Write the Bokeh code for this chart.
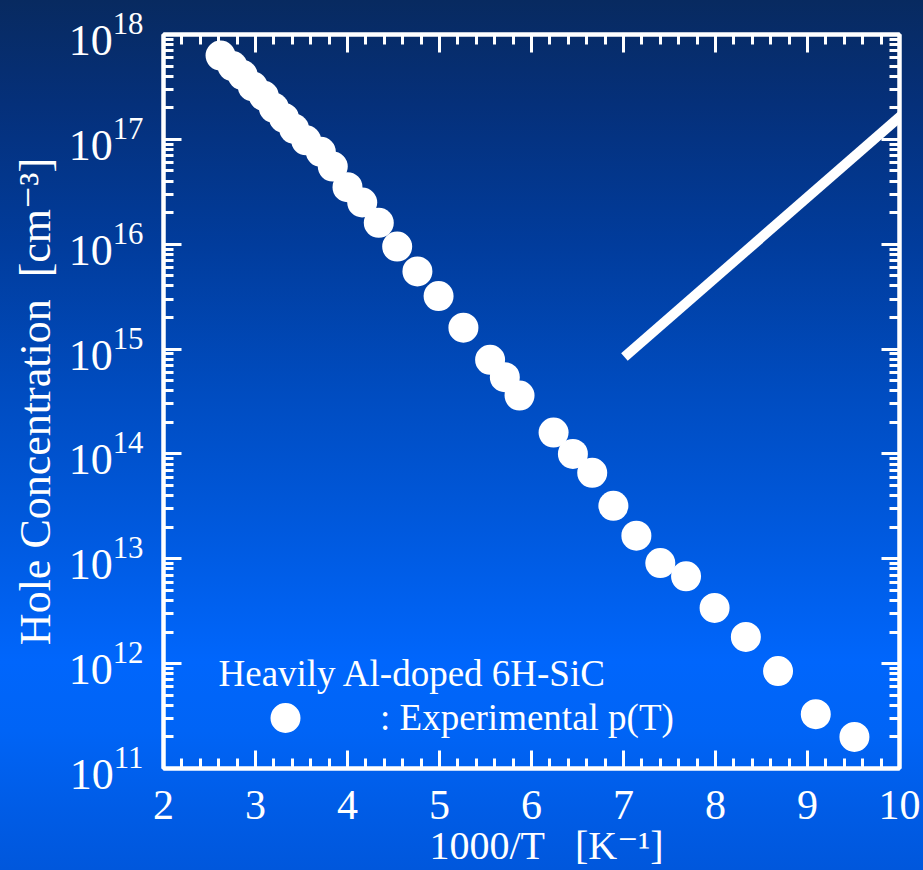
import numpy as np
from bokeh.plotting import figure
from bokeh.models import (Range1d, LinearAxis, LogAxis, FixedTicker, Arrow, Legend,
                          LegendItem, InlineStyleSheet, Label)
from bokeh.embed import file_html
from bokeh.resources import INLINE

# ---------------- data ----------------
inv_T = [2.62, 2.75, 2.86, 2.97, 3.09, 3.20, 3.31, 3.42, 3.55, 3.71, 3.84, 4.00,
         4.16, 4.34, 4.54, 4.76, 4.99, 5.26, 5.55, 5.71, 5.87, 6.24, 6.45, 6.66,
         6.89, 7.14, 7.40, 7.68, 7.99, 8.33, 8.68, 9.09, 9.51]
p_hole = [6.3e17, 5.0e17, 4.1e17, 3.2e17, 2.6e17, 2.0e17, 1.6e17, 1.26e17, 9.8e16,
          7.6e16, 5.5e16, 3.5e16, 2.5e16, 1.6e16, 9.5e15, 5.5e15, 3.2e15, 1.6e15,
          7.9e14, 5.4e14, 3.6e14, 1.6e14, 1.0e14, 6.6e13, 3.2e13, 1.66e13, 9.1e12,
          6.8e12, 3.4e12, 1.8e12, 8.5e11, 3.3e11, 2.0e11]

x_ticks = [2, 3, 4, 5, 6, 7, 8, 9, 10]
y_ticks = [1e11, 1e12, 1e13, 1e14, 1e15, 1e16, 1e17, 1e18]

guide_x = [7.01, 10.6]
guide_y = [8.4e14, 4.7e17]

legend_title = "Heavily Al-doped 6H-SiC"
legend_label = ": Experimental p(T)"
x_title = "\u00a0\u00a0\u00a01000/T\u00a0\u00a0\u00a0[K\u207b\u00b9]"
y_title = "Hole Concentration\u00a0\u00a0[cm\u207b\u00b3]"

FONT = "Liberation Serif"
FONT_SUP = "Liberation Serif, DejaVu Serif"

# ---------------- figure ----------------
p = figure(width=923, height=870, x_range=Range1d(2, 10), y_range=Range1d(1e11, 1e18),
           y_axis_type="log", x_axis_location=None, y_axis_location=None,
           output_backend="svg", toolbar_location=None,
           min_border_left=163, min_border_right=24, min_border_top=34, min_border_bottom=101)
p.grid.visible = False
p.background_fill_color = None
p.border_fill_color = None
p.outline_line_color = "white"
p.outline_line_width = 4
p.stylesheets = [InlineStyleSheet(css=""":host { background: linear-gradient(to bottom,
  #082a60 0%, #05307a 12%, #013c9c 28%, #004cc0 45%, #005ae0 62%, #0066fc 76%,
  #0064f6 84%, #005ce6 93%, #0057dc 100%); }""")]

x_minor = [2 + 0.2 * k for k in range(41)]
y_minor = [m * 10.0 ** e for e in range(11, 18) for m in range(2, 10)]


def style_axis(ax):
    ax.axis_line_color = "white"
    ax.axis_line_width = 4
    ax.major_tick_line_color = "white"
    ax.major_tick_line_width = 3
    ax.minor_tick_line_color = "white"
    ax.minor_tick_line_width = 3
    ax.major_tick_in = 18
    ax.major_tick_out = 0
    ax.minor_tick_in = 10
    ax.minor_tick_out = 0


def hide_labels(ax):
    ax.major_label_text_color = None
    ax.major_label_text_font_size = "1px"
    ax.major_label_standoff = 0


xb = LinearAxis(ticker=FixedTicker(ticks=x_ticks, minor_ticks=x_minor))
style_axis(xb)
xb.major_label_text_font = FONT
xb.major_label_text_font_size = "42px"
xb.major_label_text_color = "white"
xb.major_label_standoff = 22
xb.axis_label = x_title
xb.axis_label_text_font = FONT_SUP
xb.axis_label_text_font_size = "40px"
xb.axis_label_text_font_style = "normal"
xb.axis_label_text_color = "white"
xb.axis_label_standoff = 1
p.add_layout(xb, "below")

xt = LinearAxis(ticker=FixedTicker(ticks=x_ticks, minor_ticks=x_minor))
style_axis(xt)
hide_labels(xt)
p.add_layout(xt, "above")

yl = LogAxis(ticker=FixedTicker(ticks=y_ticks, minor_ticks=y_minor))
style_axis(yl)
yl.major_label_text_font = FONT
yl.major_label_text_font_size = "44px"
yl.major_label_text_color = "white"
yl.major_label_standoff = 20
yl.axis_label = y_title
yl.axis_label_text_font = FONT_SUP
yl.axis_label_text_font_size = "44px"
yl.axis_label_text_font_style = "normal"
yl.axis_label_text_color = "white"
yl.axis_label_standoff = 6
p.add_layout(yl, "left")

yr = LogAxis(ticker=FixedTicker(ticks=y_ticks, minor_ticks=y_minor))
style_axis(yr)
hide_labels(yr)
p.add_layout(yr, "right")

# data
r = p.scatter(inv_T, p_hole, size=30, marker="circle", fill_color="white", line_color=None)

# guide line
p.add_layout(Arrow(end=None, x_start=guide_x[0], y_start=guide_y[0], x_end=guide_x[1],
                   y_end=guide_y[1], line_color="white", line_width=10))

# legend (item) + legend heading
leg = Legend(items=[LegendItem(label=legend_label, renderers=[r])],
             location=(55, 13),
             glyph_width=134, glyph_height=75, label_standoff=28,
             padding=0, margin=0, spacing=0,
             border_line_color=None, background_fill_alpha=0,
             label_text_font=FONT, label_text_font_size="37px", label_text_color="white")
p.add_layout(leg, "center")

p.add_layout(Label(x=2, y=1e11, x_offset=55, y_offset=95, text=legend_title,
                   text_font=FONT, text_font_size="37px", text_color="white",
                   text_align="left", text_baseline="alphabetic"))

open("out.html", "w").write(file_html(p, INLINE))
